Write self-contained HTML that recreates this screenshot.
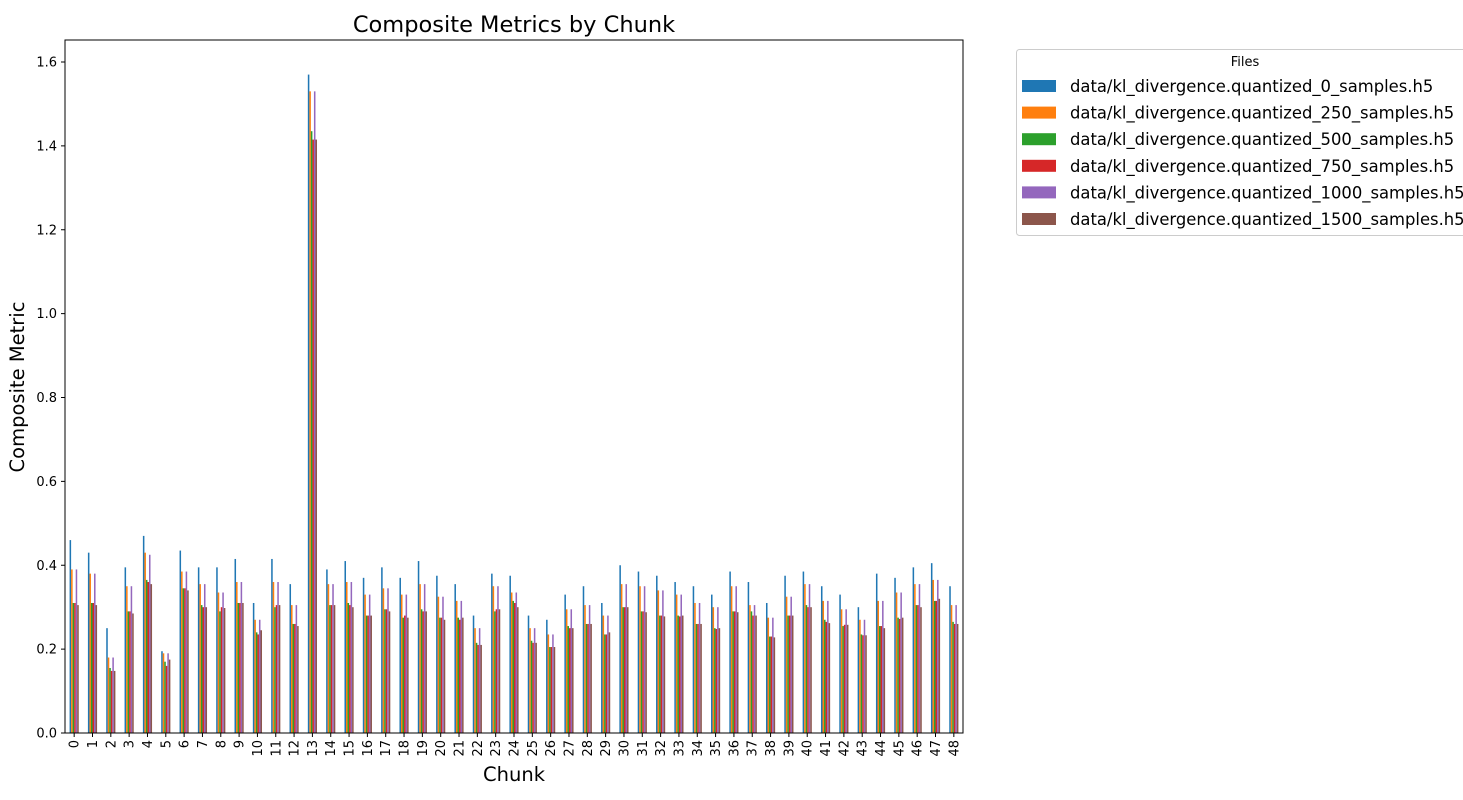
<!DOCTYPE html>
<html><head><meta charset="utf-8"><style>
html,body{margin:0;padding:0;background:#fff;}
svg{display:block;font-family:"DejaVu Sans","Liberation Sans",sans-serif;}
</style></head><body>
<svg id="chart" width="1463" height="800"></svg>
<script>
const categories = Array.from({length:49},(_,i)=>String(i));
const seriesNames = ["data/kl_divergence.quantized_0_samples.h5","data/kl_divergence.quantized_250_samples.h5","data/kl_divergence.quantized_500_samples.h5","data/kl_divergence.quantized_750_samples.h5","data/kl_divergence.quantized_1000_samples.h5","data/kl_divergence.quantized_1500_samples.h5"];
const seriesColors = ["#1f77b4","#ff7f0e","#2ca02c","#d62728","#9467bd","#8c564b"];
const s0 = [0.46,0.43,0.25,0.395,0.47,0.195,0.435,0.395,0.395,0.415,0.31,0.415,0.355,1.57,0.39,0.41,0.37,0.395,0.37,0.41,0.375,0.355,0.28,0.38,0.375,0.28,0.27,0.33,0.35,0.31,0.4,0.385,0.375,0.36,0.35,0.33,0.385,0.36,0.31,0.375,0.385,0.35,0.33,0.3,0.38,0.37,0.395,0.405,0.35];
const s1 = [0.39,0.38,0.18,0.35,0.43,0.19,0.385,0.355,0.335,0.36,0.27,0.36,0.305,1.53,0.355,0.36,0.33,0.345,0.33,0.355,0.325,0.315,0.25,0.35,0.335,0.25,0.235,0.295,0.305,0.28,0.355,0.35,0.34,0.33,0.31,0.3,0.35,0.305,0.275,0.325,0.355,0.315,0.295,0.27,0.315,0.335,0.355,0.365,0.305];
const s2 = [0.31,0.31,0.155,0.29,0.365,0.17,0.345,0.305,0.29,0.31,0.24,0.3,0.26,1.435,0.305,0.31,0.28,0.295,0.275,0.295,0.275,0.275,0.215,0.29,0.315,0.22,0.205,0.255,0.26,0.235,0.3,0.29,0.28,0.28,0.26,0.25,0.29,0.29,0.23,0.28,0.305,0.27,0.255,0.235,0.255,0.275,0.305,0.315,0.265];
const s3 = [0.31,0.31,0.148,0.29,0.36,0.16,0.345,0.3,0.3,0.31,0.235,0.305,0.26,1.415,0.305,0.305,0.28,0.295,0.28,0.29,0.275,0.27,0.21,0.295,0.31,0.215,0.205,0.25,0.26,0.235,0.3,0.29,0.28,0.278,0.26,0.248,0.29,0.28,0.23,0.28,0.3,0.265,0.258,0.233,0.255,0.272,0.305,0.315,0.26];
const s4 = [0.39,0.38,0.18,0.35,0.425,0.19,0.385,0.355,0.335,0.36,0.27,0.36,0.305,1.53,0.355,0.36,0.33,0.345,0.33,0.355,0.325,0.315,0.25,0.35,0.335,0.25,0.235,0.295,0.305,0.28,0.355,0.35,0.34,0.33,0.31,0.3,0.35,0.305,0.275,0.325,0.355,0.315,0.295,0.27,0.315,0.335,0.355,0.365,0.305];
const s5 = [0.305,0.305,0.148,0.285,0.355,0.175,0.34,0.3,0.298,0.31,0.245,0.305,0.255,1.415,0.305,0.3,0.28,0.29,0.275,0.29,0.27,0.275,0.21,0.295,0.3,0.215,0.205,0.25,0.26,0.24,0.3,0.288,0.278,0.28,0.26,0.25,0.288,0.28,0.228,0.28,0.3,0.262,0.258,0.233,0.25,0.275,0.3,0.32,0.26];
const series = [s0,s1,s2,s3,s4,s5];
const yTicks = [0,0.2,0.4,0.6,0.8,1.0,1.2,1.4,1.6];

const NS="http://www.w3.org/2000/svg";
const svg=document.getElementById('chart');
const L=65,R=963,T=40,B=733;
const yMax=1.6, y1600=62;
const y=v=>B-v*(B-y1600)/yMax;
const step=(R-L)/categories.length;
const x=i=>L+(i+0.5)*step;
const bw=step*0.5/series.length;
function el(tag,attrs,parent){const e=document.createElementNS(NS,tag);for(const k in attrs)e.setAttribute(k,attrs[k]);(parent||svg).appendChild(e);return e;}

const title=el('text',{x:514,y:32,'text-anchor':'middle','font-size':22.5,fill:'#000'});


title.textContent='Composite Metrics by Chunk';

const bars=el('g',{});


series.forEach((s,si)=>{
  s.forEach((v,i)=>{
    const bx=x(i)-step*0.25+si*bw;
    const r=el('rect',{x:bx,y:y(v),width:bw,height:B-y(v),fill:seriesColors[si]},bars);
    
    
  });
});

const frame=el('rect',{x:L,y:T,width:R-L,height:B-T,fill:'none',stroke:'#000','stroke-width':1});



const yAxis=el('g',{});


yTicks.forEach(t=>{
  el('line',{x1:L-4,x2:L,y1:y(t),y2:y(t),stroke:'#000'},yAxis);
  const tx=el('text',{x:L-8,y:y(t)+4.5,'text-anchor':'end','font-size':13},yAxis);
  
  
  tx.textContent=t.toFixed(1);
});
const xAxis=el('g',{});


categories.forEach((c,i)=>{
  el('line',{x1:x(i),x2:x(i),y1:B,y2:B+4,stroke:'#000'},xAxis);
  const tx=el('text',{x:0,y:0,'text-anchor':'end','font-size':13,transform:`translate(${x(i)+4.5},${B+7}) rotate(-90)`},xAxis);
  
  
  tx.textContent=c;
});
const yl=el('text',{x:0,y:0,'text-anchor':'middle','font-size':19.5,transform:'translate(24,387) rotate(-90)'});


yl.textContent='Composite Metric';
const xl=el('text',{x:514,y:781,'text-anchor':'middle','font-size':19.5});


xl.textContent='Chunk';

const lg=el('g',{});


el('rect',{x:1016.5,y:49.5,width:460,height:186,rx:3,fill:'#fff',stroke:'#ccc'},lg);
const lt=el('text',{x:1245,y:66,'text-anchor':'middle','font-size':13},lg);


lt.textContent='Files';
seriesNames.forEach((n,i)=>{
  const cy=86+i*26.6;
  const g=el('g',{},lg);
  
  
  el('rect',{x:1022,y:cy-6,width:34,height:12,fill:seriesColors[i]},g);
  const t=el('text',{x:1070,y:cy+6,'font-size':16.4},g);
  t.textContent=n;
});
</script>
</body></html>
